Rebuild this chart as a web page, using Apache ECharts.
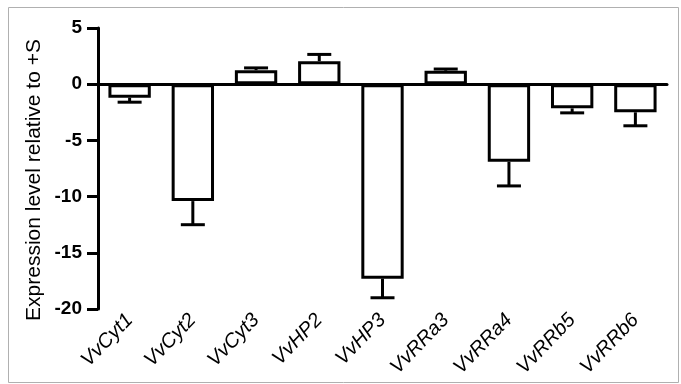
<!DOCTYPE html>
<html>
<head>
<meta charset="utf-8">
<script src="https://cdn.jsdelivr.net/npm/echarts@6/dist/echarts.min.js"></script>
<style>
html,body{margin:0;padding:0;background:#fff;}
#c{width:681px;height:384px;}
</style>
</head>
<body>
<div id="c"></div>
<script>
var categories = ['VvCyt1','VvCyt2','VvCyt3','VvHP2','VvHP3','VvRRa3','VvRRa4','VvRRb5','VvRRb6'];
var values = [-1.2, -10.4, 1.25, 2.05, -17.3, 1.2, -6.9, -2.15, -2.5];
var errorEnds = [-1.6, -12.5, 1.45, 2.65, -19.0, 1.35, -9.05, -2.55, -3.7];
var yTicks = [-20, -15, -10, -5, 0, 5];

var chart = echarts.init(document.getElementById('c'));
var FONT = '"Liberation Sans", Arial, sans-serif';

chart.setOption({
  backgroundColor: '#fff',
  animation: false,
  grid: {left: 98, right: 14, top: 28, bottom: 75},
  xAxis: [
    {
      type: 'category', data: categories,
      axisLine: {onZero: true, lineStyle: {color: '#000', width: 3}},
      axisTick: {show: false}, axisLabel: {show: false}
    },
    {
      type: 'category', data: categories, position: 'bottom',
      axisLine: {show: false, onZero: false},
      axisTick: {show: false},
      axisLabel: {rotate: 46, margin: 8, color: '#000', fontStyle: 'italic',
        fontSize: 20, fontFamily: FONT}
    }
  ],
  yAxis: {
    type: 'value', min: yTicks[0], max: yTicks[yTicks.length-1], interval: 5,
    axisLine: {show: true, lineStyle: {color: '#000', width: 3}},
    axisTick: {show: true, length: 11, lineStyle: {color: '#000', width: 3}},
    axisLabel: {color: '#000', fontWeight: 'bold', fontSize: 19, fontFamily: FONT, margin: 16},
    splitLine: {show: false}
  },
  graphic: [
    {type: 'rect', shape: {x: 8.5, y: 7.5, width: 670, height: 375},
      style: {fill: null, stroke: '#b0b0b0', lineWidth: 1}, silent: true, z: -1},
    {type: 'text', x: 34, y: 180, rotation: Math.PI/2,
      style: {text: 'Expression level relative to +S', font: '21px ' + FONT,
        fill: '#000', align: 'center', verticalAlign: 'middle'}}
  ],
  series: [
    {
      type: 'bar', data: values, xAxisIndex: 0, barWidth: '67%',
      itemStyle: {color: '#fff', borderColor: '#000', borderWidth: 3},
      z: 1
    },
    {
      type: 'custom', xAxisIndex: 0, z: 3,
      data: values.map(function(v, i){ return [i, v, errorEnds[i]]; }),
      renderItem: function(params, api){
        var i = api.value(0);
        var p0 = api.coord([i, api.value(1)]);
        var p1 = api.coord([i, api.value(2)]);
        var hw = 12;
        var st = {stroke: '#000', lineWidth: 3};
        return {type: 'group', children: [
          {type: 'line', shape: {x1: p0[0], y1: p0[1], x2: p1[0], y2: p1[1]}, style: st},
          {type: 'line', shape: {x1: p1[0]-hw, y1: p1[1], x2: p1[0]+hw, y2: p1[1]}, style: st}
        ]};
      }
    }
  ]
});
</script>
</body>
</html>
